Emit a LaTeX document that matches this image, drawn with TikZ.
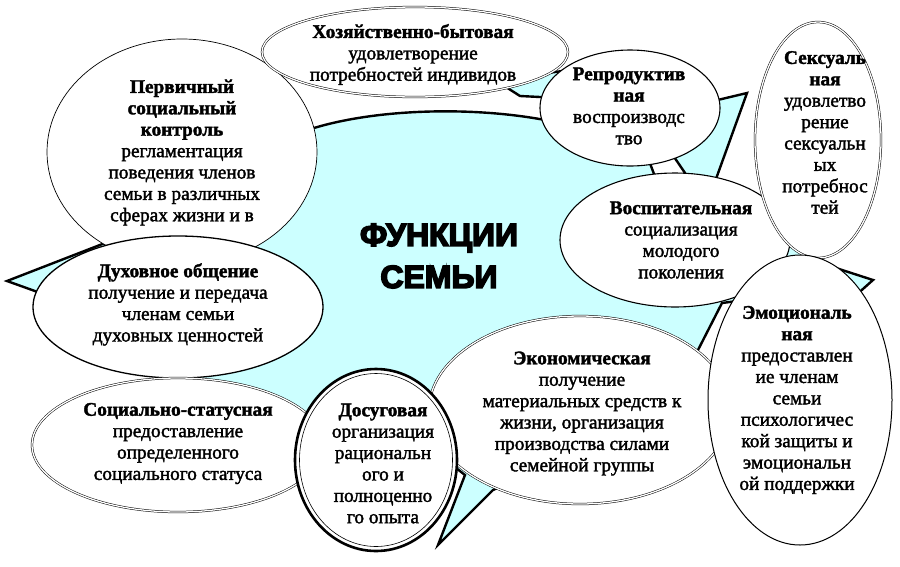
\documentclass[tikz,border=0pt]{standalone}
\usepackage{fontspec}
\setmainfont{Liberation Serif}
\newfontfamily\heavy{Liberation Sans}
\usetikzlibrary{shapes.geometric}
\definecolor{blob}{RGB}{204,255,255}
\begin{document}
\begin{tikzpicture}[x=1pt,y=-1pt,
  oval/.style={ellipse, draw, fill=white, inner sep=0pt, line width=0.9pt},
  dbl/.style={double, double distance=1.3pt, line width=0.5pt},
  txt/.style={align=center, font=\fontsize{19.3}{21.4}\selectfont, inner sep=0pt,
    execute at begin node={\special{pdf:literal direct 2 Tr 0.35 w}},
    execute at end node={\special{pdf:literal direct 0 Tr}}},
  ttl/.style={align=center, font=\heavy\bfseries\fontsize{32}{42}\selectfont, inner sep=0pt,
    execute at begin node={\special{pdf:literal direct 2 Tr 1.6 w}},
    execute at end node={\special{pdf:literal direct 0 Tr}}}]
\useasboundingbox (0,0) rectangle (900,566);

% central burst shape
\path[draw, line width=2.4pt, fill=blob, line join=miter]
  (7,281) -- (105,243) -- (200,170) -- (314,128)
  .. controls (380,108) and (480,106) .. (555,122)
  -- (560,98) -- (520,96) -- (495,80) -- (570,70) -- (650,100) -- (645,150)
  -- (660,190) -- (700,195) -- (668,148) -- (705,103) -- (747,93) -- (712,190)
  -- (770,235) -- (800,240) -- (805,258) -- (873,280) -- (845,305) -- (745,300)
  -- (722,303) -- (698,350) -- (690,370) -- (560,460) -- (493,490) -- (438,545)
  -- (465,475) -- (420,440) -- (340,425) -- (295,425) -- (178,420) -- (178,360)
  -- (60,300) -- cycle;

% ellipses
\node[oval, line width=0.7pt, minimum width=270pt, minimum height=226pt] (perv) at (182,152) {};
\node[oval, dbl, minimum width=306pt, minimum height=90pt] (hoz) at (415,52) {};
\node[oval, line width=1.1pt, minimum width=180pt, minimum height=116pt] (repr) at (630,108) {};
\node[oval, line width=1.1pt, minimum width=230pt, minimum height=134pt] (vosp) at (675,240) {};
\node[oval, dbl, minimum width=126pt, minimum height=236pt] (seks) at (818,140) {};
\node[oval, line width=1.3pt, minimum width=290pt, minimum height=142pt] (duh) at (178,307) {};
\node[oval, dbl, minimum width=292pt, minimum height=134pt] (soc) at (178,445) {};
\node[oval, dbl, minimum width=302pt, minimum height=188pt] (ekon) at (580,410) {};
\node[oval, line width=1pt, minimum width=184pt, minimum height=290pt] (emo) at (800,400) {};
\node[oval, line width=2.6pt, minimum width=162pt, minimum height=182pt] (dos) at (376,460) {};
\node[ellipse, draw, line width=0.6pt, inner sep=0pt, minimum width=153pt, minimum height=173pt] (dosin) at (376,460) {};

% texts
\node[ttl] (title) at (439,256) {ФУНКЦИИ\\СЕМЬИ};
\node[txt] (tperv) at (182,152.5) {\textbf{Первичный}\\\textbf{социальный}\\\textbf{контроль}\\регламентация\\поведения членов\\семьи в различных\\сферах жизни и в};
\node[txt] (thoz) at (413,54.5) {\textbf{Хозяйственно-бытовая}\\удовлетворение\\потребностей индивидов};
\node[txt] (trepr) at (629,106) {\textbf{Репродуктив}\\\textbf{ная}\\воспроизводс\\тво};
\node[txt] (tseks) at (825,132.5) {\textbf{Сексуаль}\\\textbf{ная}\\удовлетво\\рение\\сексуальн\\ых\\потребнос\\тей};
\node[txt] (tvosp) at (681,240) {\textbf{Воспитательная}\\социализация\\молодого\\поколения};
\node[txt] (tduh) at (178,304.5) {\textbf{Духовное общение}\\получение и передача\\членам семьи\\духовных ценностей};
\node[txt] (temo) at (797,400) {\textbf{Эмоциональ}\\\textbf{ная}\\предоставлен\\ие членам\\семьи\\психологичес\\кой защиты и\\эмоциональн\\ой поддержки};
\node[txt] (tekon) at (582,413.5) {\textbf{Экономическая}\\получение\\материальных средств к\\жизни, организация\\производства силами\\семейной группы};
\node[txt] (tsoc) at (178,443.5) {\textbf{Социально-статусная}\\предоставление\\определенного\\социального статуса};
\node[txt] (tdos) at (383,463.5) {\textbf{Досуговая}\\организация\\рациональн\\ого и\\полноценно\\го опыта};
\end{tikzpicture}
\end{document}
